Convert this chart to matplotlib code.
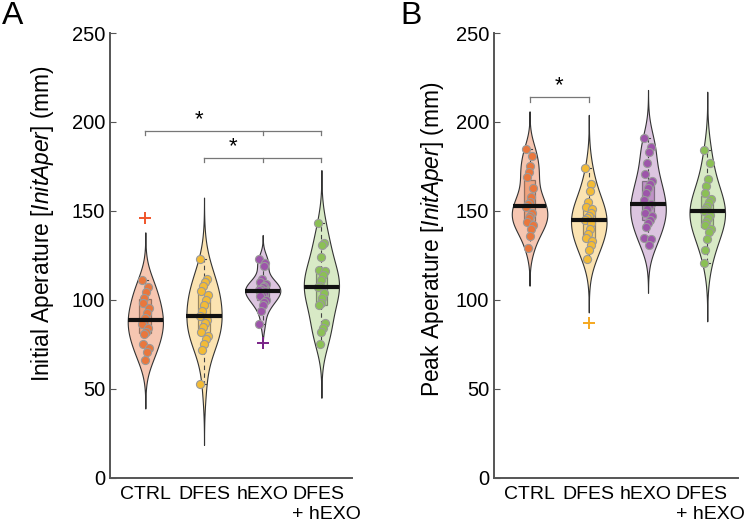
import numpy as np
import matplotlib
matplotlib.use("Agg")
from matplotlib import pyplot as plt
from matplotlib.transforms import ScaledTranslation

plt.rcParams['font.family'] = ['Liberation Sans', 'DejaVu Sans']
plt.rcParams['mathtext.fontset'] = 'custom'
plt.rcParams['mathtext.rm'] = 'Liberation Sans'
plt.rcParams['mathtext.it'] = 'Liberation Sans:italic'

groups = ['CTRL', 'DFES', 'hEXO', 'DFES\n+ hEXO']

# panel A: initial aperture (mm)
init_ctrl = [146, 111, 107.5, 104.7, 101, 98, 95.3, 92.5, 89.7, 87.8, 86.5, 84, 82.2, 81, 75, 73, 71, 66]
init_dfes = [123, 112, 110, 108, 105, 103, 100, 97, 94, 91, 89, 87, 85, 82, 80, 78, 75, 72, 53]
init_hexo = [123, 121, 119, 112, 110, 109, 108, 107, 106, 105.5, 105, 104, 103, 102, 100, 99, 97, 94, 86.5, 76]
init_both = [143, 132, 131, 124, 117, 116, 114, 111, 108, 107, 104, 101, 98, 97, 87, 84, 82, 75]

# panel B: peak aperture (mm)
peak_ctrl = [185, 181, 175, 172, 169, 163, 158, 155, 154, 152, 149, 147, 146, 144, 142, 140, 136, 129]
peak_dfes = [174, 165, 161, 155, 152, 151, 149, 147, 146, 145, 143, 140, 137, 135, 133, 131, 128, 123, 87]
peak_hexo = [191, 186, 183, 177, 171, 167, 165, 163, 160, 156, 154, 153, 151, 149, 147, 145, 143, 141, 135, 134, 131]
peak_both = [184, 177, 168, 164, 160, 157, 155, 153, 151, 150, 148, 146, 144, 142, 140, 138, 134, 128, 121]

# kde bandwidths
bw_init = [9, 11.5, 4.5, 10]
bw_peak = [7, 10, 9, 11]

fill_cols = ['#f6c6b1', '#fbe3b1', '#dcc5e0', '#d8eac6']
dot_cols = ['#e9773d', '#f3bb36', '#9d55aa', '#8bc055']
flier_cols = ['#f0552a', '#f5a81f', '#7a2488', '#5a9a2a']


def violin_panel(ax, data, bws, label_shifts):
    pos = np.arange(1, len(data) + 1)
    bp = ax.boxplot(data, positions=pos, widths=0.2, patch_artist=True,
                    whis=1.5, manage_ticks=False,
                    boxprops=dict(linewidth=0.9, edgecolor='#333333'),
                    whiskerprops=dict(linestyle=(0, (4, 3)), linewidth=0.8, color='#444444'),
                    capprops=dict(linewidth=0.8, color='#444444'),
                    medianprops=dict(linewidth=0),
                    flierprops=dict(marker='+', markersize=9, markeredgewidth=1.4),
                    capwidths=0.08, zorder=3)
    for i, vals in enumerate(data):
        vals = np.array(vals, dtype=float)
        fl = bp['fliers'][i]
        fl.set_markeredgecolor(flier_cols[i])
        fl.set_zorder(5)
        bp['boxes'][i].set_facecolor(dot_cols[i])
        bp['boxes'][i].set_alpha(0.45)
        bp['boxes'][i].set_edgecolor('#222222')
        out = np.array(fl.get_ydata(), dtype=float)
        keep = vals[~np.isin(vals, out)]
        h = bws[i]
        yy = np.linspace(keep.min() - 3 * h, keep.max() + 3 * h, 300)
        dens = np.exp(-0.5 * ((yy[:, None] - keep[None, :]) / h) ** 2).sum(axis=1)
        dens = dens / dens.max() * 0.3
        x0 = pos[i]
        ax.fill_betweenx(yy, x0 - dens, x0 + dens, facecolor=fill_cols[i],
                         edgecolor='#333333', linewidth=0.8, zorder=1)
        # jittered points
        jit = (((np.arange(len(keep)) * 7) % 9) - 4) / 4 * 0.06
        ax.scatter(x0 + jit, keep, s=34, color=dot_cols[i], edgecolor='#9a9a9a',
                   linewidth=0.8, zorder=4)
        med = np.median(vals)
        wmed = np.interp(med, yy, dens)
        ax.plot([x0 - wmed, x0 + wmed], [med, med], color='#111111', lw=3,
                solid_capstyle='butt', zorder=6)
    ax.set_xlim(0.4, 4.52)
    ax.set_ylim(0, 250)
    ax.set_yticks(range(0, 251, 50))
    ax.set_xticks(pos)
    ax.set_xticklabels(groups, multialignment='left')
    ax.tick_params(axis='x', length=0, labelsize=14, pad=6)
    ax.tick_params(axis='y', direction='in', length=4, labelsize=14.5, color='#555555')
    for lab, dx in zip(ax.get_xticklabels(), label_shifts):
        lab.set_transform(lab.get_transform() + ScaledTranslation(dx, 0, ax.figure.dpi_scale_trans))
    for s in ['top', 'right']:
        ax.spines[s].set_visible(False)
    for s in ['left', 'bottom']:
        ax.spines[s].set_color('#555555')
        ax.spines[s].set_linewidth(1.4)


def bracket(ax, x1, x2, y, drops, star_x, dy=2.5):
    ax.plot([x1, x2], [y, y], color='#777777', lw=0.9)
    for xd in drops:
        ax.plot([xd, xd], [y, y - dy], color='#777777', lw=0.9)
    ax.text(star_x, y + 0.3, '*', ha='center', va='bottom', fontsize=16)


fig = plt.figure(figsize=(7.44, 5.24), dpi=100)
axA = fig.add_axes([0.148, 0.088, 0.325, 0.849])
axB = fig.add_axes([0.664, 0.088, 0.328, 0.849])

violin_panel(axA, [init_ctrl, init_dfes, init_hexo, init_both], bw_init, [0, 0, 0, 0.05])
violin_panel(axB, [peak_ctrl, peak_dfes, peak_hexo, peak_both], bw_peak, [0, 0, -0.02, 0.03])

axA.set_ylabel(r'Initial Aperature $\mathit{[InitAper]}$ (mm)', fontsize=16.4)
axB.set_ylabel(r'Peak Aperature $\mathit{[InitAper]}$ (mm)', fontsize=16.4)
axA.yaxis.set_label_coords(-0.225, 0.572)
axB.yaxis.set_label_coords(-0.195, 0.537)

bracket(axA, 1, 4, 195, [1, 3, 4], 1.92)
bracket(axA, 2, 4, 180, [2, 3, 4], 2.5)
bracket(axB, 1, 2, 214, [1, 2], 1.5)

fig.text(0.003, 0.955, 'A', fontsize=23)
fig.text(0.538, 0.955, 'B', fontsize=23)

fig.savefig('out.png', dpi=100)
